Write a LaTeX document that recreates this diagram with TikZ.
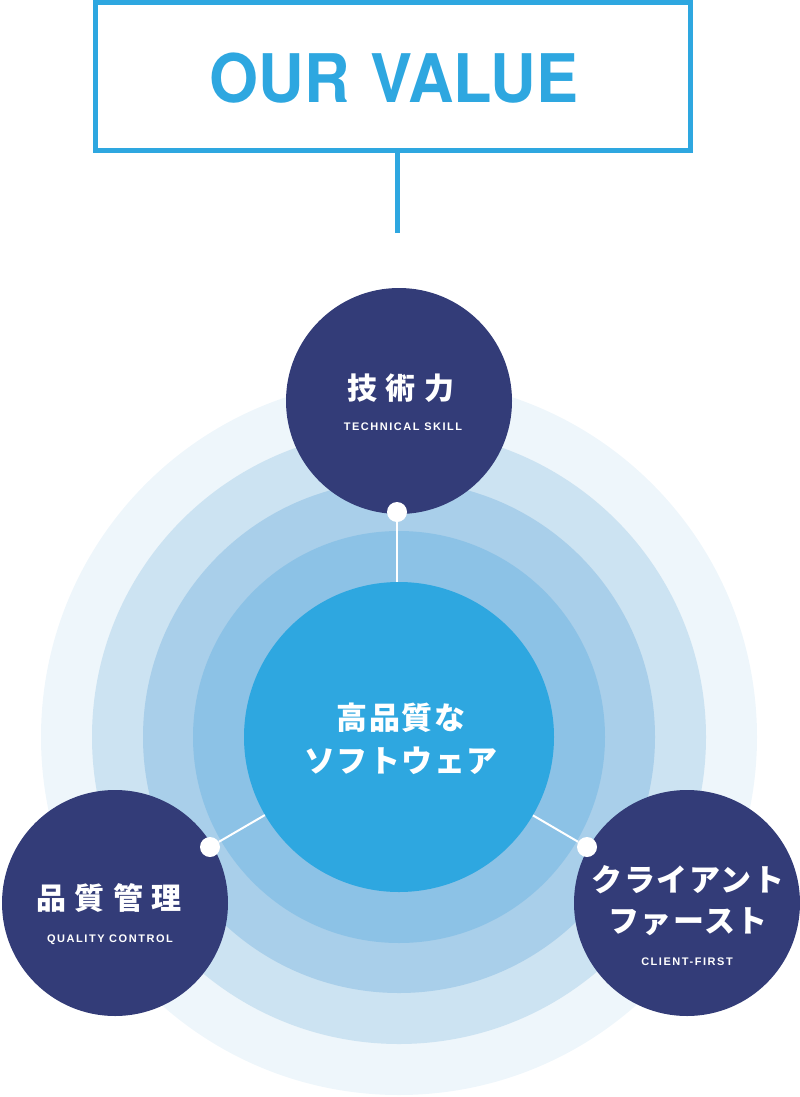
\documentclass[tikz,border=0pt]{standalone}
\usepackage{fontspec}
\setmainfont{Liberation Sans}
\newfontfamily\titlefont{TeX Gyre Heros}
\newfontfamily\jpwide{Noto Sans CJK JP}[LetterSpace=27]
\newfontfamily\jpmid{Noto Sans CJK JP}[LetterSpace=5]
\newfontfamily\ensp{Liberation Sans}[LetterSpace=14]
\definecolor{skyblue}{HTML}{2EA7E0}
\definecolor{ringA}{HTML}{EEF6FB}
\definecolor{ringB}{HTML}{CCE3F2}
\definecolor{ringC}{HTML}{A9CFEA}
\definecolor{ringD}{HTML}{8CC2E6}
\definecolor{navy}{HTML}{333C78}
\tikzset{
  valuecircle/.style={circle, fill=navy, minimum size=226pt, inner sep=0pt},
  corecircle/.style={circle, fill=skyblue, minimum size=310pt, inner sep=0pt},
  dotnode/.style={circle, fill=white, minimum size=20pt, inner sep=0pt},
  jptext/.style={text=white, font=\jpwide\bfseries\fontsize{30}{34}\selectfont, inner sep=0pt},
  jpcore/.style={text=white, font=\jpmid\bfseries\fontsize{31}{36}\selectfont, inner sep=0pt},
  entext/.style={text=white, font=\ensp\bfseries\fontsize{11}{13}\selectfont, inner sep=0pt},
  link/.style={draw=white, line width=2pt}
}
\begin{document}
\begin{tikzpicture}[x=1pt,y=-1pt]
\useasboundingbox (0,0) rectangle (800,1097);
% title box
\node[draw=skyblue, line width=5.5pt, minimum width=595pt, minimum height=148pt, inner sep=0pt] (title) at (393,76.5) {};
\node[text=skyblue, inner sep=0pt] (titletext) at (394,78) {\scalebox{0.94}[1]{\titlefont\bfseries\fontsize{67}{70}\selectfont OUR\hspace{4pt} VALUE}};
\coordinate (stem) at (397,233);
\draw[skyblue, line width=5pt] (title.south -| stem) -- (stem);
% rings
\fill[ringA] (399,737) circle (358pt);
\fill[ringB] (399,737) circle (307pt);
\fill[ringC] (399,737) circle (256pt);
\fill[ringD] (399,737) circle (206pt);
% core
\node[corecircle] (core) at (399,737) {};
\node[jpcore] (coreA) at (401,718) {高品質な};
\node[jpcore] (coreB) at (401,761) {ソフトウェア};
% value circles
\node[valuecircle] (tech) at (399,401) {};
\node[valuecircle] (qual) at (115,903) {};
\node[valuecircle] (client) at (687,903) {};
% texts
\node[jptext] (techjp) at (401,388) {技術力};
\node[entext] (techen) at (403,427) {TECHNICAL SKILL};
\node[jptext] (qualjp) at (109,898) {品質管理};
\node[entext] (qualen) at (110,940) {QUALITY CONTROL};
\node[text=white, font=\jpmid\bfseries\fontsize{31}{36}\selectfont, inner sep=0pt] (clientA) at (688,880) {クライアント};
\node[text=white, font=\jpmid\bfseries\fontsize{31}{36}\selectfont, inner sep=0pt] (clientB) at (688,922) {ファースト};
\node[entext] (clienten) at (687,962) {CLIENT-FIRST};
% dots
\node[dotnode] (dotT) at (397,512) {};
\node[dotnode] (dotL) at (210,847) {};
\node[dotnode] (dotR) at (587,847) {};
% links
\draw[link] (dotT) -- (dotT |- core.north);
\draw[link] (dotL) -- (core);
\draw[link] (dotR) -- (core);
\end{tikzpicture}
\end{document}
